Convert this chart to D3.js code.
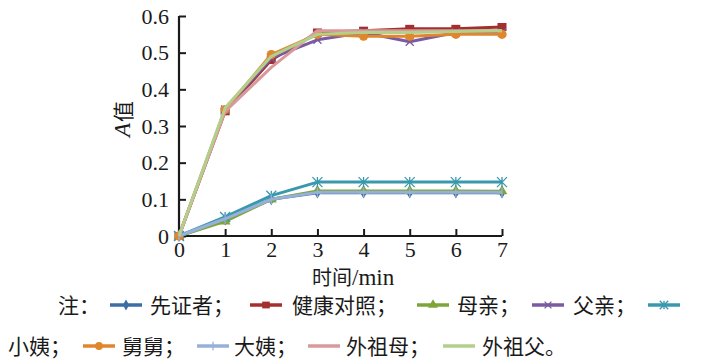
<!DOCTYPE html>
<html><head><meta charset="utf-8">
<script src="https://cdn.jsdelivr.net/npm/d3@7"></script>
<style>
html,body{margin:0;padding:0;background:#fff;}
svg text{fill:#1a1a1a;}
</style></head>
<body><svg id="c" width="711" height="362"></svg>
<script>
const times = [0,1,2,3,4,5,6,7];
const yTicks = [0,0.1,0.2,0.3,0.4,0.5,0.6];
const seriesNames = ["先证者","健康对照","母亲","父亲","小姨","舅舅","大姨","外祖母","外祖父"];
const seriesColors = ["#3b6ea5","#a3302f","#7fa43a","#7a5aa0","#3a98ae","#e0862c","#97b0d9","#d9999b","#b3cf8c"];
const seriesMarkers = ["diamond","square","triangle","x","asterisk","circle","plus","none","none"];
const v先证者 = [0,0.045,0.10,0.118,0.118,0.118,0.118,0.118];
const v健康对照 = [0,0.34,0.48,0.555,0.56,0.565,0.565,0.57];
const v母亲 = [0,0.04,0.10,0.123,0.123,0.123,0.123,0.122];
const v父亲 = [0,0.345,0.485,0.535,0.555,0.53,0.555,0.555];
const v小姨 = [0,0.052,0.11,0.147,0.147,0.147,0.147,0.147];
const v舅舅 = [0,0.345,0.495,0.55,0.545,0.545,0.55,0.55];
const v大姨 = [0,0.047,0.10,0.119,0.119,0.119,0.119,0.119];
const v外祖母 = [0,0.34,0.46,0.56,0.56,0.56,0.56,0.56];
const v外祖父 = [0,0.35,0.49,0.55,0.555,0.555,0.558,0.56];
const seriesValues = [v先证者,v健康对照,v母亲,v父亲,v小姨,v舅舅,v大姨,v外祖母,v外祖父];
const legendRows = [
  {y:305, prefix:"注：", px:58, items:[{i:0,sx:110,tx:150,t:"先证者；"},{i:1,sx:250,tx:292,t:"健康对照；"},{i:2,sx:417,tx:457,t:"母亲；"},{i:3,sx:532,tx:573,t:"父亲；"},{i:4,sx:648,tx:null,t:""}]},
  {y:346, prefix:"小姨；", px:8, items:[{i:5,sx:83,tx:122,t:"舅舅；"},{i:6,sx:197,tx:234,t:"大姨；"},{i:7,sx:308,tx:346,t:"外祖母；"},{i:8,sx:443,tx:482,t:"外祖父。"}]}
];

const SERIF = "'Liberation Serif', 'Times New Roman', serif";
const CJK = "'Noto Sans CJK SC', sans-serif";

const svg = d3.select("#c");
const x = d3.scaleLinear().domain([0,7]).range([179,502]);
const y = d3.scaleLinear().domain([0,0.6]).range([236,16]);

function marker(g, type, color, cx, cy, s){
  const k = s||1;
  if(type==="diamond"){
    g.append("path").attr("d",d3.symbol(d3.symbolDiamond, 40*k)()).attr("transform",`translate(${cx},${cy})`).attr("fill",color);
  } else if(type==="square"){
    g.append("rect").attr("x",cx-4.5*k).attr("y",cy-4*k).attr("width",9*k).attr("height",8*k).attr("fill",color);
  } else if(type==="triangle"){
    g.append("path").attr("d",d3.symbol(d3.symbolTriangle, 50*k)()).attr("transform",`translate(${cx},${cy})`).attr("fill",color);
  } else if(type==="circle"){
    g.append("circle").attr("cx",cx).attr("cy",cy).attr("r",4.6*k).attr("fill",color);
  } else if(type==="x"){
    const r=4*k;
    g.append("path").attr("d",`M${cx-r},${cy-r}L${cx+r},${cy+r}M${cx-r},${cy+r}L${cx+r},${cy-r}`).attr("stroke",color).attr("stroke-width",1.3);
  } else if(type==="asterisk"){
    const r=5*k;
    g.append("path").attr("d",`M${cx-r},${cy-r}L${cx+r},${cy+r}M${cx-r},${cy+r}L${cx+r},${cy-r}M${cx},${cy-r}L${cx},${cy+r}`).attr("stroke",color).attr("stroke-width",1.3);
  } else if(type==="plus"){
    const r=5*k;
    g.append("path").attr("d",`M${cx},${cy-r}L${cx},${cy+r}`).attr("stroke",color).attr("stroke-width",1.3);
  }
}

// axes
const xAxis = d3.axisBottom(x).tickValues(times).tickSize(-7).tickPadding(5).tickFormat(d3.format("d"));
const gx = svg.append("g").attr("transform","translate(0,236)").call(xAxis);
const yAxis = d3.axisLeft(y).tickValues(yTicks).tickSize(-7).tickPadding(10).tickFormat(d=>d===0?"0":d3.format(".1f")(d));
const gy = svg.append("g").attr("transform","translate(179,0)").call(yAxis);
[gx,gy].forEach(g=>{
  g.select(".domain").attr("stroke","#1a1a1a").attr("stroke-width",2.2);
  g.selectAll(".tick line").attr("stroke","#1a1a1a").attr("stroke-width",2);
  g.selectAll(".tick text").attr("font-size",22).attr("font-family",SERIF).attr("fill","#1a1a1a");
});
gy.select(".domain").attr("d","M0,16V236");
gx.select(".domain").attr("d","M179,0H502");

// axis titles (Latin and CJK in separate text elements so each keeps its font)
svg.append("text").attr("x",352).attr("y",285).attr("text-anchor","end").attr("font-size",20).attr("font-family",CJK).text("时间");
svg.append("text").attr("x",352).attr("y",285).attr("text-anchor","start").attr("font-size",23).attr("font-family",SERIF).text("/min");
svg.append("text").attr("transform","translate(130,137) rotate(-90)").attr("text-anchor","start").attr("font-size",23)
  .attr("font-family",SERIF).attr("font-style","italic").text("A");
svg.append("text").attr("transform","translate(131,122) rotate(-90)").attr("text-anchor","start").attr("font-size",21)
  .attr("font-family",CJK).text("值");

// series
const line = d3.line().x((d,i)=>x(times[i])).y(d=>y(d));
const plot = svg.append("g");
seriesValues.forEach((vals,si)=>{
  const g = plot.append("g");
  g.append("path").attr("d",line(vals)).attr("fill","none").attr("stroke",seriesColors[si]).attr("stroke-width",3).attr("stroke-linejoin","round");
  vals.forEach((v,i)=>marker(g, seriesMarkers[si], seriesColors[si], x(times[i]), y(v)));
});

// legend
const lg = svg.append("g");
legendRows.forEach(row=>{
  lg.append("text").attr("x",row.px).attr("y",row.y+8).attr("font-size",21).attr("font-family",CJK).text(row.prefix);
  row.items.forEach(it=>{
    const c = seriesColors[it.i];
    lg.append("line").attr("x1",it.sx).attr("x2",it.sx+32).attr("y1",row.y).attr("y2",row.y).attr("stroke",c).attr("stroke-width",3.5);
    marker(lg, seriesMarkers[it.i], c, it.sx+16, row.y, 0.85);
    if(it.tx!==null) lg.append("text").attr("x",it.tx).attr("y",row.y+8).attr("font-size",21).attr("font-family",CJK).text(it.t);
  });
});
</script></body></html>
